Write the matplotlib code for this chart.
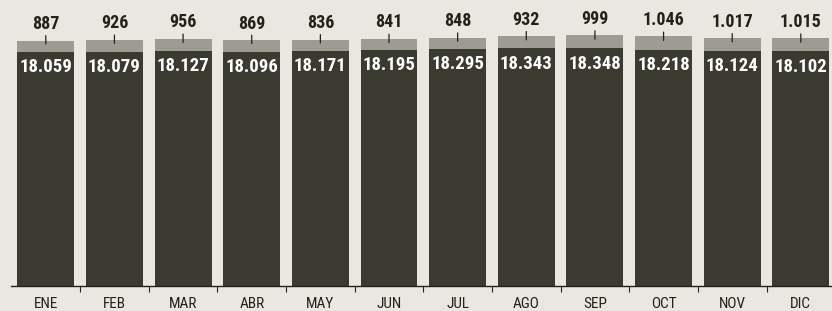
import os

import matplotlib.pyplot as plt
import numpy as np
from matplotlib import font_manager

months = ["ENE", "FEB", "MAR", "ABR", "MAY", "JUN",
          "JUL", "AGO", "SEP", "OCT", "NOV", "DIC"]
base = [18059, 18079, 18127, 18096, 18171, 18195,
        18295, 18343, 18348, 18218, 18124, 18102]
top = [887, 926, 956, 869, 836, 841, 848, 932, 999, 1046, 1017, 1015]


def fmt(v):
    # spanish thousands separator
    return f"{v:,}".replace(",", ".")


def narrow_font(bold):
    # the original uses a narrow newspaper face, take a condensed file if one is installed
    prefs = ["LiberationSansNarrow", "RobotoCondensed", "DejaVuSansCondensed", "Condensed", "Narrow"]
    files = [f.fname for f in font_manager.fontManager.ttflist]
    for p in prefs:
        for fn in files:
            b = os.path.basename(fn)
            if p not in b or "Italic" in b or "Oblique" in b:
                continue
            if bold == ("Bold" in b):
                return font_manager.FontProperties(fname=fn)
    return None


fp_bold = narrow_font(True)
fp_reg = narrow_font(False)
if fp_bold is None:
    fp_bold = font_manager.FontProperties(family="Liberation Sans", weight="bold")
if fp_reg is None:
    fp_reg = font_manager.FontProperties(family="Liberation Sans")

bg = "#e8e8e1"
dark = "#3a3a30"
light = "#9c9c92"
ink = "#222219"

fig = plt.figure(figsize=(8.32, 3.11), dpi=100, facecolor=bg)
ax = fig.add_axes([0.0138, 0.080, 0.99, 0.92], facecolor=bg)

x = np.arange(len(months))
w = 0.83
ax.bar(x, base, width=w, color=dark, zorder=2)
ax.bar(x, top, bottom=base, width=w, color=light, zorder=2)

for i in range(len(months)):
    total = base[i] + top[i]
    ax.annotate(fmt(base[i]), xy=(i, base[i]), xytext=(0, -4.5), textcoords="offset points",
                ha="center", va="top", color="white", fontproperties=fp_bold, fontsize=13.5, zorder=3)
    ax.annotate(fmt(top[i]), xy=(i, total - top[i] * 0.3), xytext=(0, 8),
                textcoords="offset points", ha="center", va="bottom", color=ink,
                fontproperties=fp_bold, fontsize=13, zorder=3,
                arrowprops=dict(arrowstyle="-", color=ink, lw=0.9, shrinkA=0, shrinkB=0))

ax.set_xlim(-0.5, 11.5)
ax.set_ylim(0, 22070)

ax.set_xticks(x)
ax.set_xticklabels(months, color=ink, fontproperties=fp_reg, fontsize=11)
ax.tick_params(axis="x", which="major", length=0, pad=8)
ax.set_xticks(x[:-1] + 0.5, minor=True)
ax.tick_params(axis="x", which="minor", length=4, width=0.8, color=ink, direction="out")
ax.set_yticks([])

for s in ["top", "right", "left"]:
    ax.spines[s].set_visible(False)
ax.spines["bottom"].set_color(ink)
ax.spines["bottom"].set_linewidth(1.0)
ax.spines["bottom"].set_zorder(4)

fig.savefig("out.png", dpi=100, facecolor=bg)
